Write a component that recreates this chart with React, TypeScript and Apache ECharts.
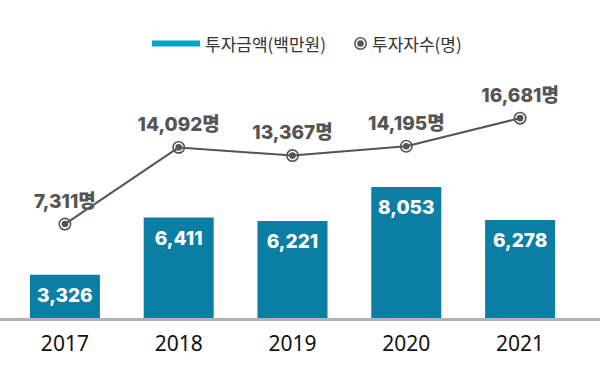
import React, { useEffect, useRef } from "react";
import * as echarts from "echarts";

const years = ["2017", "2018", "2019", "2020", "2021"];
const investAmount = [3326, 6411, 6221, 8053, 6278];
const investCount = [7311, 14092, 13367, 14195, 16681];

const ringDot =
  "path://M0,-6.5A6.5,6.5,0,1,1,0,6.5A6.5,6.5,0,1,1,0,-6.5ZM0,-4.9A4.9,4.9,0,1,0,0,4.9A4.9,4.9,0,1,0,0,-4.9ZM0,-3.3A3.3,3.3,0,1,1,0,3.3A3.3,3.3,0,1,1,0,-3.3Z";

const fmt = (v: number) => v.toLocaleString("en-US");
const FONT = "Inter, 'Noto Sans CJK KR', sans-serif";

export default function App() {
  const ref = useRef<HTMLDivElement>(null);
  useEffect(() => {
    if (!ref.current) return;
    const chart = echarts.init(ref.current, null, { renderer: "svg" });
    chart.setOption({
      animation: false,
      backgroundColor: "#ffffff",
      legend: [
        {
          left: 147,
          top: 30,
          itemWidth: 48,
          itemHeight: 6,
          itemGap: 4,
          textStyle: { fontSize: 17, color: "#333", fontFamily: "'Noto Sans CJK KR', sans-serif" },
          data: [{ name: "투자금액(백만원)", icon: "rect", itemStyle: { color: "#0aa2cc" } }],
        },
        {
          left: 349,
          top: 30,
          itemWidth: 13,
          itemHeight: 13,
          textStyle: { fontSize: 17, color: "#333", fontFamily: "'Noto Sans CJK KR', sans-serif" },
          data: [{ name: "투자자수(명)", icon: ringDot, itemStyle: { color: "#555" } }],
        },
      ],
      grid: { left: 8, right: 23, top: 58, bottom: 62 },
      xAxis: {
        type: "category",
        data: years,
        boundaryGap: true,
        axisLine: { show: false },
        axisTick: { show: false },
        axisLabel: { fontSize: 21, color: "#111", margin: 14, fontFamily: "'Noto Sans', sans-serif" },
      },
      yAxis: [
        { type: "value", min: 1000, max: 15000, show: false, splitLine: { show: false } },
        { type: "value", min: -1000, max: 22000, show: false, splitLine: { show: false } },
      ],
      graphic: [
        {
          type: "line",
          shape: { x1: 0, y1: 319.5, x2: 600, y2: 319.5 },
          style: { stroke: "#b3b3b3", lineWidth: 3 },
          z: 10,
        },
      ],
      series: [
        {
          name: "투자금액(백만원)",
          type: "bar",
          data: investAmount,
          barWidth: 70,
          itemStyle: { color: "#0b7ea3" },
          label: {
            show: true,
            position: "insideTop",
            distance: 11,
            color: "#ffffff",
            fontSize: 19,
            fontWeight: 800,
            fontFamily: FONT,
            formatter: (p: any) => fmt(p.value),
          },
          z: 2,
        },
        {
          name: "투자자수(명)",
          type: "line",
          yAxisIndex: 1,
          data: investCount,
          symbol: ringDot,
          symbolSize: 13,
          lineStyle: { color: "#555", width: 2 },
          itemStyle: { color: "#555" },
          label: {
            show: true,
            position: "top",
            distance: 7,
            color: "#555",
            fontSize: 19,
            fontWeight: 800,
            fontFamily: FONT,
            formatter: (p: any) => fmt(p.value) + "명",
          },
          z: 5,
        },
      ],
    });
    return () => chart.dispose();
  }, []);
  return <div ref={ref} style={{ position: "fixed", left: 0, top: 0, width: 600, height: 380 }} />;
}
